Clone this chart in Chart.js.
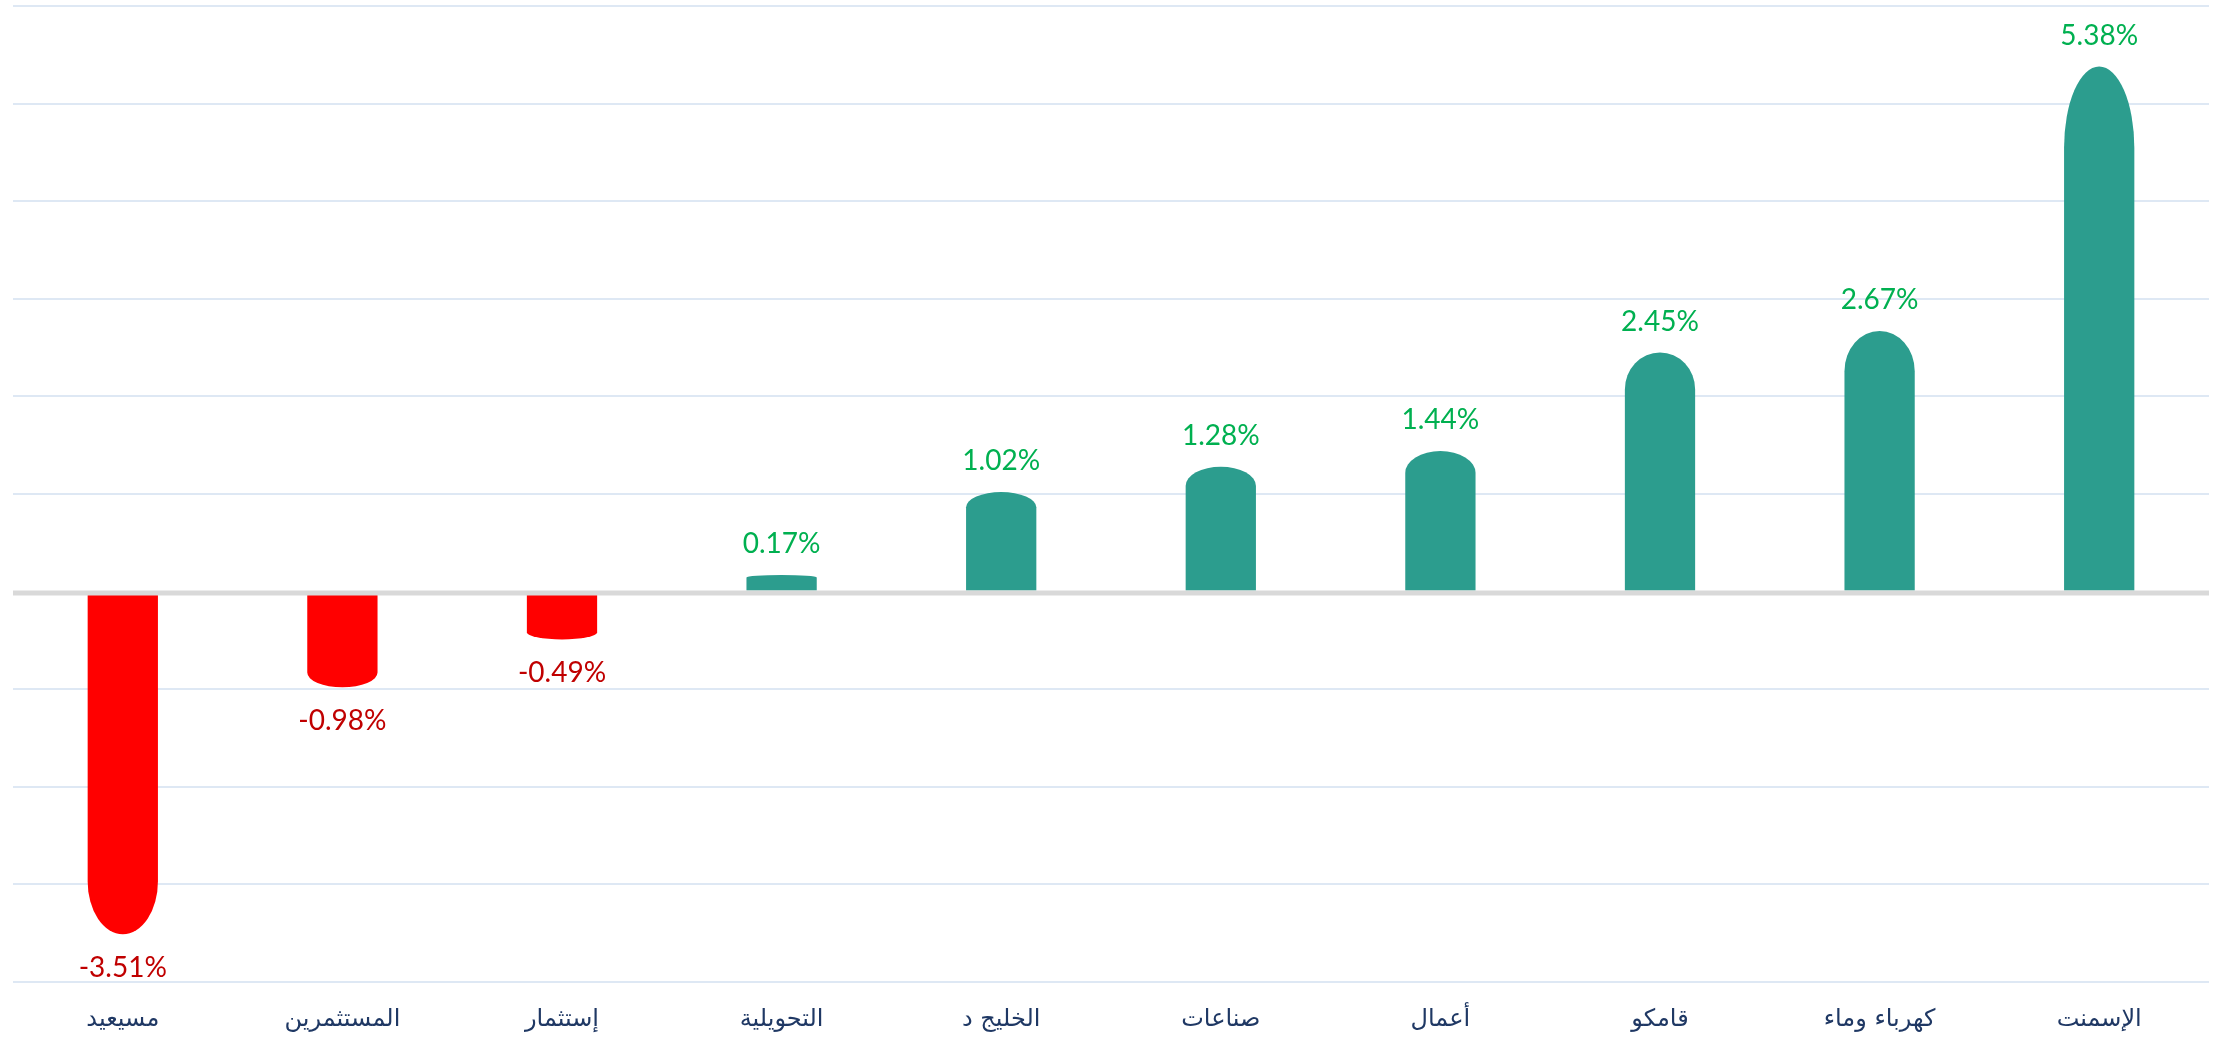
<!DOCTYPE html>
<html>
<head>
<meta charset="utf-8">
<script src="https://cdn.jsdelivr.net/npm/chart.js@4.4.0/dist/chart.umd.min.js"></script>
<style>
  html, body { margin: 0; padding: 0; background: #fff; }
  #wrap { width: 2213px; height: 1039px; }
</style>
</head>
<body>
<div id="wrap"><canvas id="chart"></canvas></div>
<script>
// categories left to right, change in %
var companies = ['مسيعيد', 'المستثمرين', 'إستثمار', 'التحويلية', 'الخليج د', 'صناعات', 'أعمال', 'قامكو', 'كهرباء وماء', 'الإسمنت'];
var changes = [-3.51, -0.98, -0.49, 0.17, 1.02, 1.28, 1.44, 2.45, 2.67, 5.38];
var yTicks = { min: -4, max: 6, step: 1 };

var upColor = '#2C9D8E';
var downColor = '#FF0000';

// draws the bars with an elliptical cap on the far end, then the zero line and value labels
var capBars = {
    id: 'capBars',
    afterDatasetsDraw: function (chart) {
        var ctx = chart.ctx;
        var meta = chart.getDatasetMeta(0);
        var yScale = chart.scales.y;
        var zeroY = yScale.getPixelForValue(0);

        meta.data.forEach(function (bar, i) {
            var p = bar.getProps(['x', 'y', 'base', 'width'], true);
            var half = p.width / 2;
            var len = Math.abs(p.base - p.y);
            var h = len * 0.155;
            var up = p.y < p.base;
            var cy = up ? p.y + h : p.y - h;
            ctx.save();
            ctx.fillStyle = changes[i] >= 0 ? upColor : downColor;
            ctx.beginPath();
            ctx.moveTo(p.x - half, p.base);
            ctx.lineTo(p.x - half, cy);
            ctx.ellipse(p.x, cy, half, h, 0, Math.PI, 0, !up);
            ctx.lineTo(p.x + half, p.base);
            ctx.closePath();
            ctx.fill();
            ctx.restore();
        });

        // zero line on top of the bars
        ctx.save();
        ctx.strokeStyle = '#D9D9D9';
        ctx.lineWidth = 5;
        ctx.beginPath();
        ctx.moveTo(chart.chartArea.left, zeroY + 1.5);
        ctx.lineTo(chart.chartArea.right, zeroY + 1.5);
        ctx.stroke();
        ctx.restore();

        // value labels
        ctx.save();
        ctx.font = '28px Lato, "Open Sans", sans-serif';
        ctx.textAlign = 'center';
        ctx.textBaseline = 'middle';
        meta.data.forEach(function (bar, i) {
            var v = changes[i];
            var txt = v.toFixed(2) + '%';
            if (v >= 0) {
                ctx.fillStyle = '#00B050';
                ctx.fillText(txt, bar.x, bar.y - 31);
            } else {
                ctx.fillStyle = '#C00000';
                ctx.fillText(txt, bar.x, bar.y + 34);
            }
        });
        ctx.restore();
    }
};

var ctx = document.getElementById('chart').getContext('2d');
var myChart = new Chart(ctx, {
    type: 'bar',
    data: {
        labels: companies,
        datasets: [{
            data: changes,
            backgroundColor: 'rgba(0,0,0,0)',
            borderWidth: 0,
            categoryPercentage: 1,
            barPercentage: 0.32
        }]
    },
    options: {
        responsive: true,
        maintainAspectRatio: false,
        animation: false,
        layout: {
            padding: { left: 13, right: 4, top: 6, bottom: 0 }
        },
        plugins: {
            legend: { display: false },
            tooltip: { enabled: false }
        },
        scales: {
            x: {
                grid: { display: false, drawTicks: false },
                border: { display: false },
                ticks: {
                    color: '#1F3864',
                    font: { family: '"DejaVu Sans", sans-serif', size: 24 },
                    padding: 23,
                    maxRotation: 0,
                    autoSkip: false
                },
                afterFit: function (scale) { scale.height = 57; }
            },
            y: {
                min: yTicks.min,
                max: yTicks.max,
                ticks: { display: false, stepSize: yTicks.step },
                border: { display: false },
                grid: {
                    drawTicks: false,
                    lineWidth: 2,
                    color: function (c) {
                        return c.tick && c.tick.value === 0 ? 'rgba(0,0,0,0)' : '#DEE8F4';
                    }
                },
                afterFit: function (scale) { scale.width = 0; }
            }
        }
    },
    plugins: [capBars]
});
</script>
</body>
</html>
